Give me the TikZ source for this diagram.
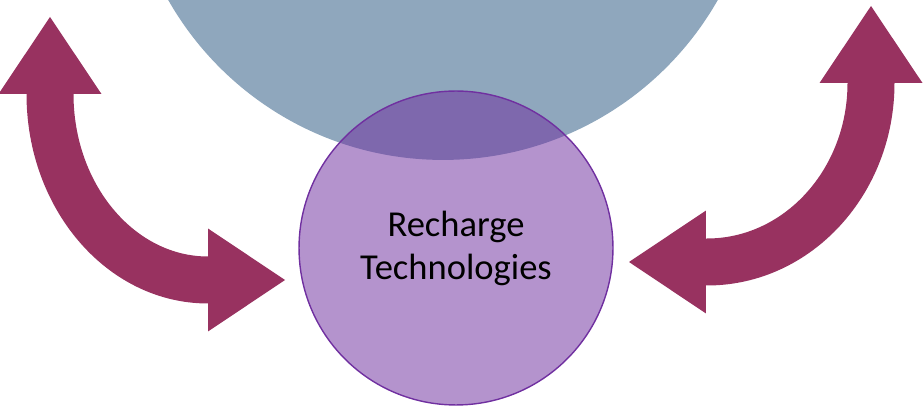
\documentclass[tikz,border=0pt]{standalone}
\usepackage{fontspec}
\setmainfont{Carlito}
\usetikzlibrary{arrows.meta}
\definecolor{topblue}{RGB}{143,167,189}
\definecolor{techpurple}{RGB}{112,48,160}
\definecolor{flowred}{RGB}{152,50,96}
\tikzset{
  disc/.style      = {circle, inner sep=0pt},
  techdisc/.style  = {disc, draw=techpurple, line width=0.8pt,
                      fill=techpurple, fill opacity=0.52, text opacity=1,
                      text=black, align=center,
                      font=\fontsize{20.8}{24.5}\selectfont},
  flowarrow/.style = {draw=flowred, line width=0.94cm,
                      arrows={Triangle[width=2.06cm,length=1.54cm,line width=0pt]-Triangle[width=2.06cm,length=1.54cm,line width=0pt]}},
}

\begin{document}
\begin{tikzpicture}[x=0.02cm, y=0.02cm]
  \useasboundingbox (0,0) rectangle (923,-408);
  \clip (0,0) rectangle (923,-408);

  % big circle, cut by the top edge
  \node[disc, fill=topblue, minimum size=12.64cm] (top) at (443,156) {};

  % centre circle
  \node[techdisc, minimum size=6.28cm] (rt) at (456,-248) {Recharge\\Technologies};

  % free ends of the two arrows
  \coordinate (ltip) at (50,-17);
  \coordinate (lend) at (285,-280);
  \coordinate (rtip) at (871,-6);
  \coordinate (rend) at (629,-262);

  \draw[flowarrow] (ltip) -- ++(0,-77)
    arc[start angle=180, end angle=270, x radius=158, y radius=186] -- (lend);
  \draw[flowarrow] (rtip) -- ++(0,-77)
    arc[start angle=0, end angle=-90, x radius=164, y radius=179] -- (rend);
\end{tikzpicture}
\end{document}
